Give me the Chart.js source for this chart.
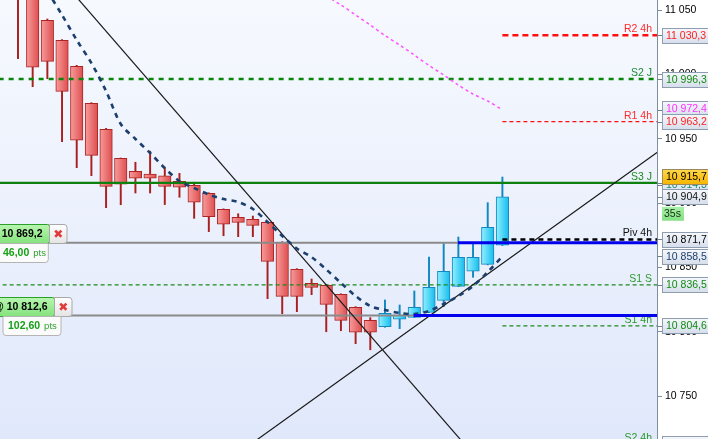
<!DOCTYPE html>
<html>
<head>
<meta charset="utf-8">
<script src="https://cdn.jsdelivr.net/npm/chart.js@4.4.1/dist/chart.umd.min.js"></script>
<style>
html, body { margin: 0; padding: 0; background: #fff; overflow: hidden; }
canvas { display: block; }
</style>
</head>
<body>
<canvas id="chart" width="708" height="439"></canvas>
<script>
// bougies, index 0 = la plus ancienne visible
var opens  = [11080, 11062, 11042, 11026.4, 11006.3, 10977.5, 10957.3, 10934.8, 10924.7, 10922.6, 10921.1, 10916.9, 10913.8, 10907.6, 10895.2, 10888.9, 10887.3, 10885.0, 10869.5, 10848.5, 10837.6, 10836.1, 10829.1, 10819.0, 10808.9,
              10803.9, 10809.7, 10811.2, 10815.1, 10824.4, 10835.3, 10847.0, 10852.4, 10867.2];
var highs  = [11085, 11068, 11043, 11027.0, 11007.0, 10978.0, 10958.0, 10935.0, 10931.7, 10940.3, 10927.2, 10923.1, 10916.2, 10908.0, 10895.5, 10891.7, 10889.9, 10885.5, 10870.0, 10849.0, 10841.0, 10836.5, 10829.5, 10819.5, 10811.0,
              10824.7, 10820.8, 10831.7, 10858.1, 10868.4, 10873.6, 10868.4, 10900.3, 10920.2];
var lows   = [11012.2, 10990.4, 10996.6, 10947.7, 10927.5, 10921.3, 10896.4, 10898.7, 10907.8, 10907.8, 10898.8, 10904.5, 10888.1, 10877.8, 10874.6, 10873.9, 10873.9, 10825.7, 10814.0, 10815.6, 10828.8, 10800.0, 10800.8, 10790.7, 10786.0,
              10803.5, 10802.4, 10811.0, 10814.8, 10819.5, 10835.0, 10842.3, 10852.0, 10867.0];
var closes = [11062, 11005.5, 11010.1, 10986.8, 10948.8, 10937.1, 10913.0, 10914.6, 10919.3, 10919.3, 10913.0, 10912.3, 10900.6, 10889.5, 10883.5, 10885.0, 10882.7, 10854.7, 10827.5, 10827.5, 10834.5, 10821.3, 10808.9, 10799.6, 10799.6,
              10814.3, 10813.0, 10819.0, 10834.5, 10847.0, 10857.8, 10857.8, 10881.2, 10904.9];

// moyenne mobile (pointillés bleu marine) et moyenne longue (rose)
var maShort = [null, null, 11064.8, 11046.1, 11026.7, 11008.8, 10987.0, 10961.4, 10949.8, 10938.9, 10927.2, 10917.1, 10911.7, 10906.6, 10903.1, 10900.8, 10895.4, 10885.3, 10874.4, 10864.7, 10858.0, 10848.4, 10837.9, 10827.8, 10820.0,
               10816.9, 10814.6, 10813.8, 10816.1, 10821.6, 10827.8, 10835.5, 10846.4, 10858.5];
var maLong  = [null, null, null, null, null, null, null, null, null, null, null, null, null, null, null, null, null, null, null, null, null, 11060.9, 11053.9, 11046.1, 11038.3,
               11030.2, 11022.8, 11015.0, 11006.9, 10999.5, 10991.7, 10984.7, 10979.3, 10972.4];

// niveaux (pivots)
var levelNames  = ['R2 4h', 'S2 J', 'R1 4h', 'S3 J', 'Piv 4h', 'S1 S', 'S1 4h', 'S2 4h'];
var levelValues = [11030.3, 10996.3, 10963.2, 10915.7, 10871.7, 10836.5, 10804.6, 10712.8];
var levelStart  = [33, -2, 33, -2, 33, -2, 33, 33];

// positions ouvertes
var entryPrices = [10869.2, 10812.6];
var entryStart  = [29.97, 26.95];
var entryTexts  = ['10 869,2', '@ 10 812,6'];
var pnlTexts    = ['46,00', '102,60'];

// droites de tendance [index, prix]
var trendDown = [[2, 11086.1], [32, 10691.8]];
var trendUp   = [[14, 10697.4], [45, 10951.3]];

// étiquettes de l'axe des prix
var yTicks = [10750, 10800, 10850, 10900, 10950, 11000, 11050];
var axisValues = [11030.3, 10996.3, 10972.4, 10963.2, 10914.3, 10904.9, 10915.7, 10871.7, 10858.5, 10836.5, 10804.6, 10712.8];
var timerText = '35s';

var yMin = 10716.67, yMax = 11057.77;
var xMin = -1.2262, xMax = 43.532;

var FONT = '"Liberation Sans", Arial, sans-serif';

var levelStyle = [
  {color: '#ff1010', width: 2.5, dash: [6, 4], text: '#ff2a2a'},
  {color: '#0a870a', width: 2.5, dash: [5, 5], text: '#1a8a36'},
  {color: '#ff1010', width: 1.2, dash: [4, 3], text: '#ff2a2a'},
  {color: '#0e800e', width: 2.2, dash: [], text: '#1a8a1a'},
  {color: '#000000', width: 2.5, dash: [5, 4], text: '#111111'},
  {color: '#1a8a1a', width: 1.2, dash: [4, 3], text: '#2a9a2a'},
  {color: '#1a8a1a', width: 1.2, dash: [4, 3], text: '#2a9a2a'},
  {color: '#1a8a1a', width: 1.2, dash: [4, 3], text: '#2a9a2a'}
];
var axisStyle = [
  {color: '#ff2020'}, {color: '#128a12'}, {color: '#ff30ff', nudge: -1.5}, {color: '#ff2020'},
  {color: '#1a8a70'}, {color: '#111111'}, {color: '#000000', gold: true, nudge: -6.5},
  {color: '#000000'}, {color: '#1c3f6e'}, {color: '#128a12'}, {color: '#128a12'}, {color: '#128a12'}
];
var leftBoxRight = [49.5, 54.5];
var pnlBox = [[-2, 48.3], [3, 61]];

function fmt(v, d) {
  var s = v.toFixed(d).split('.');
  var ip = s[0].replace(/\B(?=(\d{3})+(?!\d))/g, ' ');
  return s.length > 1 ? ip + ',' + s[1] : ip;
}

function bodyFill(c0, c1) {
  return function (ctx) {
    var chart = ctx.chart;
    if (!chart.chartArea || !ctx.raw) return c1;
    var px = chart.scales.x.getPixelForValue(ctx.raw.x);
    var g = chart.ctx.createLinearGradient(px - 6, 0, px + 6, 0);
    g.addColorStop(0, c0);
    g.addColorStop(1, c1);
    return g;
  };
}

var bearBody = [], bullBody = [], bearWick = [], bullWick = [];
for (var i = 0; i < opens.length; i++) {
  var up = closes[i] >= opens[i];
  (up ? bullBody : bearBody).push({x: i, y: [opens[i], closes[i]]});
  (up ? bullWick : bearWick).push({x: i, y: [lows[i], highs[i]]});
}

function series(arr) {
  var out = [];
  arr.forEach(function (v, k) { if (v !== null) out.push({x: k, y: v}); });
  return out;
}
function seg(p) { return p.map(function (q) { return {x: q[0], y: q[1]}; }); }

var datasets = [
  {type: 'bar', data: bearWick, backgroundColor: '#a82020', borderWidth: 0, barThickness: 1.3, maxBarThickness: 1.3, grouped: false, order: 20, clip: 0},
  {type: 'bar', data: bullWick, backgroundColor: '#1288c0', borderWidth: 0, barThickness: 1.3, maxBarThickness: 1.3, grouped: false, order: 20, clip: 0},
  {type: 'bar', data: bearBody, backgroundColor: bodyFill('#f89a9a', '#de5050'), borderColor: '#ac2424', borderWidth: 1, borderSkipped: false, barThickness: 12.5, maxBarThickness: 12.5, grouped: false, order: 19, clip: 0},
  {type: 'bar', data: bullBody, backgroundColor: bodyFill('#8eefff', '#18bdee'), borderColor: '#1288c0', borderWidth: 1, borderSkipped: false, barThickness: 12.5, maxBarThickness: 12.5, grouped: false, order: 19, clip: 0}
];

levelValues.forEach(function (v, k) {
  var st = levelStyle[k];
  datasets.push({type: 'line', data: [{x: levelStart[k], y: v}, {x: 46, y: v}], borderColor: st.color, borderWidth: st.width,
    borderDash: st.dash, pointRadius: 0, order: 8, clip: 0, borderCapStyle: 'butt'});
});

entryPrices.forEach(function (v, k) {
  datasets.push({type: 'line', data: [{x: -3, y: v}, {x: entryStart[k], y: v}], borderColor: '#8a8a8a', borderWidth: 2, pointRadius: 0, order: 7, clip: 0});
  datasets.push({type: 'line', data: [{x: entryStart[k], y: v}, {x: 46, y: v}], borderColor: '#0000ee', borderWidth: 3, pointRadius: 0, order: 1, clip: 0});
});

datasets.push({type: 'line', data: seg(trendDown), borderColor: '#1a1a1a', borderWidth: 1.2, pointRadius: 0, order: 5, clip: 0});
datasets.push({type: 'line', data: seg(trendUp), borderColor: '#1a1a1a', borderWidth: 1.2, pointRadius: 0, order: 5, clip: 0});
datasets.push({type: 'line', data: series(maLong), borderColor: '#ff55ff', borderWidth: 1.5, borderDash: [3, 3], pointRadius: 0, tension: 0.3, order: 4, clip: 0});
datasets.push({type: 'line', data: series(maShort), borderColor: '#1c3f6e', borderWidth: 2.6, borderDash: [5, 5], pointRadius: 0, tension: 0.3, order: 3, clip: 0});

function axisBox(c, y, text, color, gold) {
  var h = 15, top = Math.round(y - h / 2) + 0.5;
  var g = c.createLinearGradient(0, top, 0, top + h);
  if (gold) { g.addColorStop(0, '#ffd84a'); g.addColorStop(1, '#f6b400'); }
  else { g.addColorStop(0, '#f6f8fc'); g.addColorStop(1, '#d6deeb'); }
  c.fillStyle = g;
  c.fillRect(662.5, top, 50, h);
  c.strokeStyle = gold ? '#9a8a60' : '#8e9db0';
  c.lineWidth = 1;
  c.strokeRect(662.5, top, 50, h);
  c.fillStyle = color;
  c.textAlign = 'left';
  c.textBaseline = 'middle';
  c.fillText(text, 666, top + h / 2 + 0.5);
}

function rrect(c, x, y, w, h, r) {
  c.beginPath();
  if (c.roundRect) c.roundRect(x, y, w, h, r); else c.rect(x, y, w, h);
}

var decor = {
  id: 'decor',
  beforeDraw: function (chart) {
    var c = chart.ctx, a = chart.chartArea;
    c.save();
    c.fillStyle = '#ffffff';
    c.fillRect(0, 0, chart.width, chart.height);
    var g = c.createLinearGradient(0, a.top, 0, a.bottom);
    g.addColorStop(0, '#f6f9fe');
    g.addColorStop(1, '#e0e8fb');
    c.fillStyle = g;
    c.fillRect(a.left, a.top, a.right - a.left, a.bottom - a.top);
    c.restore();
  },
  beforeDatasetsDraw: function (chart) {
    var c = chart.ctx, a = chart.chartArea, ys = chart.scales.y;
    c.save();
    c.font = '10.5px ' + FONT;
    c.textAlign = 'right';
    c.textBaseline = 'alphabetic';
    levelNames.forEach(function (n, k) {
      c.fillStyle = levelStyle[k].text;
      c.fillText(n, a.right - 5, ys.getPixelForValue(levelValues[k]) - 3);
    });
    c.restore();
  },
  afterDraw: function (chart) {
    var c = chart.ctx, ys = chart.scales.y;
    c.save();
    c.font = '10.5px ' + FONT;
    // étiquettes de prix sur l'axe
    axisValues.forEach(function (v, k) {
      var st = axisStyle[k];
      var y = ys.getPixelForValue(v);
      c.strokeStyle = '#708090';
      c.lineWidth = 1;
      c.beginPath(); c.moveTo(657, Math.round(y) + 0.5); c.lineTo(662, Math.round(y) + 0.5); c.stroke();
      axisBox(c, y + (st.nudge || 0), fmt(v, 1), st.color, st.gold);
    });
    // compte à rebours
    var ty = ys.getPixelForValue(axisValues[5]) + 10;
    var tg = c.createLinearGradient(0, ty, 0, ty + 14);
    tg.addColorStop(0, '#a8f0a8'); tg.addColorStop(1, '#84e084');
    c.fillStyle = tg;
    c.fillRect(662, ty, 22, 14);
    c.fillStyle = '#123012';
    c.textBaseline = 'middle';
    c.fillText(timerText, 664, ty + 7.5);

    // positions à gauche
    entryPrices.forEach(function (v, k) {
      var y0 = Math.round(ys.getPixelForValue(v)) + 0.5;
      var top = y0 - 19, right = leftBoxRight[k];
      var g = c.createLinearGradient(0, top, 0, y0);
      g.addColorStop(0, '#b8f6b0'); g.addColorStop(1, '#84e27c');
      rrect(c, -4, top, right + 4, 19, 2);
      c.fillStyle = g; c.fill();
      c.strokeStyle = '#2aa02a'; c.lineWidth = 1; c.stroke();
      c.fillStyle = '#000';
      c.font = 'bold 10.5px ' + FONT;
      c.textAlign = 'right';
      c.textBaseline = 'middle';
      c.fillText(entryTexts[k], right - 7, top + 10);

      var xg = c.createLinearGradient(0, top, 0, y0);
      xg.addColorStop(0, '#ffffff'); xg.addColorStop(1, '#e4e4e4');
      rrect(c, right, top, 17.5, 19, [0, 3, 3, 0]);
      c.fillStyle = xg; c.fill();
      c.strokeStyle = '#a8a8a8'; c.stroke();
      c.fillStyle = '#e03a3a';
      c.font = 'bold 12px "DejaVu Sans", sans-serif';
      c.textAlign = 'center';
      c.fillText('\u2716', right + 8.75, top + 10);

      var pb = pnlBox[k];
      rrect(c, pb[0], y0, pb[1] - pb[0], 19, [0, 0, 3, 3]);
      c.fillStyle = '#fbfbfb'; c.fill();
      c.strokeStyle = '#b4b4b4'; c.stroke();
      c.textAlign = 'left';
      c.font = 'bold 10.5px ' + FONT;
      c.fillStyle = '#16a016';
      var tx = pb[0] + 5;
      c.fillText(pnlTexts[k], tx, y0 + 10);
      var w = c.measureText(pnlTexts[k]).width;
      c.font = '9.5px ' + FONT;
      c.fillStyle = '#30a030';
      c.fillText('pts', tx + w + 4, y0 + 10);
    });
    c.restore();
  }
};

new Chart(document.getElementById('chart'), {
  type: 'bar',
  data: {datasets: datasets},
  options: {
    responsive: false,
    animation: false,
    devicePixelRatio: 1,
    events: [],
    layout: {padding: 0, autoPadding: false},
    plugins: {legend: {display: false}, tooltip: {enabled: false}},
    scales: {
      x: {type: 'linear', min: xMin, max: xMax, bounds: 'data', offset: false, display: false},
      y: {
        position: 'right', min: yMin, max: yMax, bounds: 'data',
        afterBuildTicks: function (s) { s.ticks = yTicks.map(function (v) { return {value: v}; }); },
        afterFit: function (s) { s.width = 51; s.paddingTop = 0; s.paddingBottom = 0; },
        ticks: {callback: function (v) { return fmt(v, 0); }, font: {family: FONT, size: 10.5}, color: '#000', padding: 3, autoSkip: false},
        grid: {drawOnChartArea: false, tickLength: 5, color: '#7f8fa0'},
        border: {color: '#7f8fa0'}
      }
    }
  },
  plugins: [decor]
});
</script>
</body>
</html>
